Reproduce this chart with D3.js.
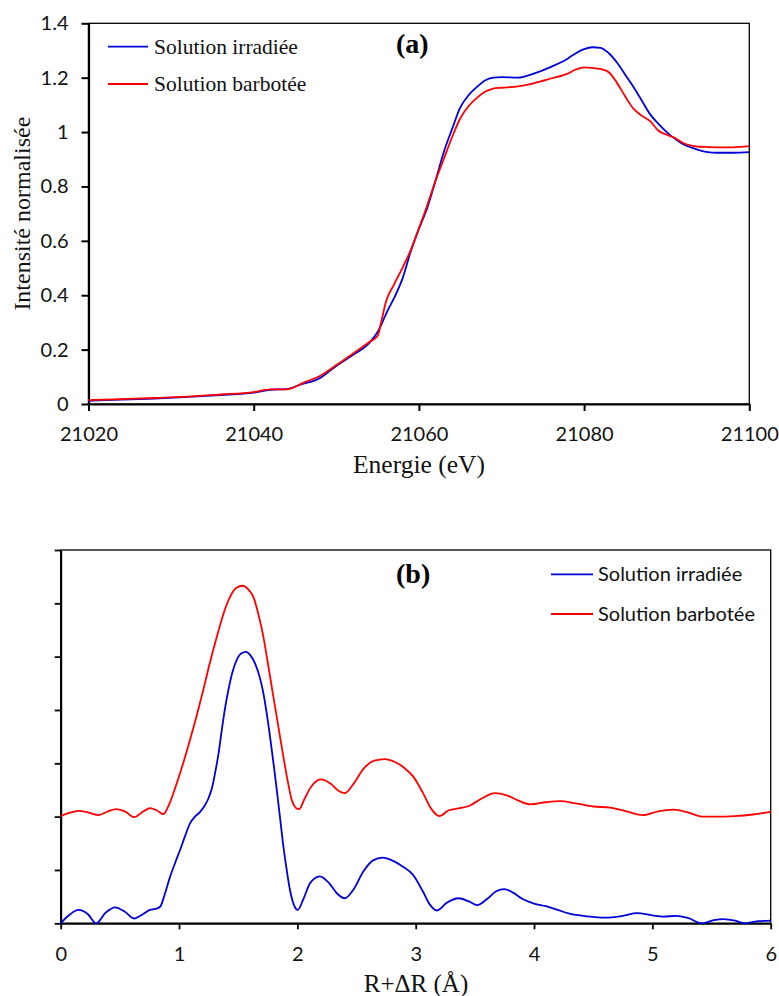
<!DOCTYPE html>
<html><head><meta charset="utf-8">
<script src="https://cdn.jsdelivr.net/npm/d3@7"></script>
<style>
body{margin:0;background:#fff;}
svg{display:block;}
</style></head>
<body>
<svg id="chart" width="779" height="996"></svg>
<script>
// ---------- Data (a): XANES ----------
const energy = [21020,21024,21028,21032,21036,21040,21042,21044,21046,21047,21048,21050,21052,21054,21055,21055.5,21056,21057,21058,21059,21060,21061,21062,21063,21064,21065,21066,21067,21068,21069,21070,21072,21074,21076,21078,21079,21080,21081,21082,21083,21084,21085,21086,21087,21088,21089,21090,21091,21092,21093,21094,21095,21096,21098,21100];
const irradieeA = [0.012,0.016,0.020,0.026,0.033,0.042,0.052,0.055,0.075,0.082,0.095,0.140,0.180,0.225,0.265,0.295,0.330,0.390,0.460,0.560,0.645,0.720,0.820,0.925,1.010,1.090,1.135,1.165,1.190,1.200,1.202,1.200,1.216,1.240,1.270,1.290,1.305,1.312,1.310,1.290,1.255,1.210,1.165,1.115,1.065,1.030,1.000,0.975,0.955,0.943,0.933,0.926,0.924,0.924,0.926];
const barboteeA = [0.014,0.018,0.022,0.027,0.035,0.044,0.054,0.054,0.078,0.090,0.103,0.143,0.185,0.228,0.250,0.310,0.375,0.440,0.500,0.565,0.645,0.730,0.820,0.900,0.980,1.050,1.095,1.125,1.148,1.160,1.163,1.168,1.180,1.197,1.215,1.230,1.238,1.236,1.232,1.220,1.180,1.130,1.085,1.060,1.040,1.005,0.990,0.978,0.960,0.950,0.946,0.945,0.944,0.944,0.948];
const xTicksA = [21020,21040,21060,21080,21100];
const yTicksA = [0,0.2,0.4,0.6,0.8,1,1.2,1.4];
const yTickLabelsA = ["0","0.2","0.4","0.6","0.8","1","1.2","1.4"];

// ---------- Data (b): Fourier transform ----------
const rIrr = [0,0.07,0.15,0.23,0.30,0.38,0.46,0.54,0.62,0.70,0.755,0.80,0.84,0.88,0.924,0.97,1.008,1.05,1.093,1.135,1.178,1.215,1.248,1.28,1.304,1.335,1.361,1.39,1.417,1.45,1.488,1.525,1.566,1.605,1.642,1.68,1.713,1.74,1.769,1.80,1.826,1.855,1.882,1.91,1.938,1.97,2.003,2.05,2.107,2.19,2.27,2.34,2.40,2.47,2.56,2.64,2.72,2.80,2.88,2.98,3.06,3.12,3.18,3.26,3.36,3.45,3.52,3.60,3.68,3.75,3.82,3.90,4.00,4.10,4.20,4.30,4.45,4.60,4.75,4.87,5.00,5.09,5.20,5.30,5.42,5.52,5.60,5.70,5.78,5.90,6.00];
const ftIrr = [0,0.15,0.25,0.17,0,0.20,0.30,0.22,0.09,0.18,0.25,0.27,0.31,0.55,0.87,1.15,1.37,1.63,1.875,2.00,2.09,2.20,2.34,2.55,2.81,3.20,3.62,4.05,4.375,4.70,4.94,5.06,5.09,5.02,4.875,4.63,4.31,3.95,3.50,2.97,2.50,1.95,1.44,1.00,0.62,0.35,0.25,0.45,0.75,0.88,0.75,0.55,0.47,0.62,0.98,1.18,1.23,1.18,1.08,0.90,0.60,0.35,0.24,0.38,0.47,0.41,0.34,0.45,0.60,0.64,0.58,0.46,0.37,0.32,0.25,0.18,0.13,0.105,0.14,0.19,0.15,0.125,0.14,0.10,0.0,0.06,0.08,0.05,0.0,0.04,0.05];
const rBar = [0,0.07,0.15,0.23,0.32,0.40,0.47,0.55,0.62,0.70,0.755,0.81,0.867,0.92,0.98,1.035,1.093,1.15,1.205,1.26,1.319,1.375,1.431,1.485,1.538,1.585,1.628,1.67,1.713,1.755,1.797,1.84,1.882,1.92,1.953,1.985,2.014,2.06,2.107,2.20,2.28,2.35,2.40,2.47,2.56,2.65,2.74,2.82,2.90,2.98,3.06,3.13,3.20,3.28,3.375,3.45,3.55,3.67,3.77,3.87,3.97,4.10,4.22,4.35,4.50,4.64,4.78,4.92,5.05,5.18,5.30,5.43,5.55,5.69,5.85,6.00];
const ftBar = [2.01,2.07,2.11,2.08,2.03,2.10,2.14,2.09,1.99,2.10,2.16,2.12,2.05,2.25,2.62,3.00,3.44,3.90,4.375,4.88,5.37,5.80,6.12,6.29,6.33,6.26,6.12,5.80,5.37,4.82,4.25,3.68,3.12,2.65,2.31,2.17,2.14,2.33,2.53,2.70,2.62,2.48,2.44,2.60,2.90,3.05,3.08,3.03,2.92,2.75,2.45,2.15,2.01,2.12,2.16,2.20,2.33,2.44,2.40,2.30,2.23,2.27,2.29,2.25,2.19,2.17,2.10,2.03,2.10,2.13,2.08,2.00,2.00,2.01,2.04,2.09];
const xTicksB = [0,1,2,3,4,5,6];
const yTicksB = [0,1,2,3,4,5,6,7];

const seriesNames = ["Solution irradiée","Solution barbotée"];
const seriesColors = ["#0000d8","#ff0000"];

const svg = d3.select("#chart");
const sansFont = "Lato, 'Open Sans', sans-serif";
const serifFont = "'Liberation Serif', 'Times New Roman', serif";

// ================= Chart (a) =================
const A = {left:88.5, right:749.3, top:23.3, bottom:404};
const xA = d3.scaleLinear().domain([21020,21100]).range([A.left,A.right]);
const yA = d3.scaleLinear().domain([0,1.4]).range([A.bottom,A.top]);
const gA = svg.append("g");

gA.append("rect").attr("x",A.left).attr("y",A.top).attr("width",A.right-A.left).attr("height",A.bottom-A.top)
  .attr("fill","none").attr("stroke","#000").attr("stroke-width",1.3);

const axAx = gA.append("g").attr("transform",`translate(0,${A.bottom})`)
  .call(d3.axisBottom(xA).tickValues(xTicksA).tickFormat(d=>String(d)).tickSize(7).tickSizeOuter(0));
const axAy = gA.append("g").attr("transform",`translate(${A.left},0)`)
  .call(d3.axisLeft(yA).tickValues(yTicksA).tickFormat((d,i)=>yTickLabelsA[i]).tickSize(7).tickSizeOuter(0));
[axAx,axAy].forEach(a=>{
  a.select(".domain").attr("stroke","#000").attr("stroke-width",2.2);
  a.selectAll(".tick line").attr("stroke","#000").attr("stroke-width",2);
  a.selectAll("text").attr("font-family",sansFont).attr("font-size",20).attr("fill","#111");
});
axAx.selectAll("text").attr("dy",null).attr("y",37);
axAy.selectAll("text").attr("x",-20);

const lineA = d3.line().x(d=>xA(d[0])).y(d=>yA(d[1])).curve(d3.curveMonotoneX);
[irradieeA,barboteeA].forEach((vals,i)=>{
  gA.append("path").datum(energy.map((e,j)=>[e,vals[j]]))
    .attr("d",lineA).attr("fill","none").attr("stroke",seriesColors[i]).attr("stroke-width",1.8);
});

seriesNames.forEach((n,i)=>{
  const y = 46.7 + i*37.3;
  gA.append("line").attr("x1",108).attr("x2",148).attr("y1",y).attr("y2",y)
    .attr("stroke",seriesColors[i]).attr("stroke-width",1.8);
  gA.append("text").attr("x",154).attr("y",y+7).text(n)
    .attr("font-family",serifFont).attr("font-size",21.5).attr("fill","#111");
});
gA.append("text").attr("x",396).attr("y",53).text("(a)")
  .attr("font-family",serifFont).attr("font-size",28).attr("font-weight","bold");
gA.append("text").attr("x",419).attr("y",473).attr("text-anchor","middle")
  .text("Energie (eV)").attr("font-family",serifFont).attr("font-size",25.5).attr("fill","#111");
gA.append("text").attr("transform",`translate(30,${(A.top+A.bottom)/2}) rotate(-90)`).attr("text-anchor","middle")
  .text("Intensité normalisée").attr("font-family",serifFont).attr("font-size",24).attr("fill","#111");

// ================= Chart (b) =================
const B = {left:60.7, right:770.7, top:550, bottom:923.3};
const xB = d3.scaleLinear().domain([0,6]).range([B.left,B.right]);
const yB = d3.scaleLinear().domain([0,7]).range([B.bottom,B.top]);
const gB = svg.append("g");
gB.append("rect").attr("x",B.left).attr("y",B.top).attr("width",B.right-B.left).attr("height",B.bottom-B.top)
  .attr("fill","none").attr("stroke","#000").attr("stroke-width",1.3);
const axBx = gB.append("g").attr("transform",`translate(0,${B.bottom})`)
  .call(d3.axisBottom(xB).tickValues(xTicksB).tickFormat(d=>String(d)).tickSize(6).tickSizeOuter(0));
const axBy = gB.append("g").attr("transform",`translate(${B.left},0)`)
  .call(d3.axisLeft(yB).tickValues(yTicksB).tickFormat("").tickSize(6).tickSizeOuter(0));
[axBx,axBy].forEach(a=>{
  a.select(".domain").attr("stroke","#000").attr("stroke-width",2);
  a.selectAll(".tick line").attr("stroke","#000").attr("stroke-width",1.8);
  a.selectAll("text").attr("font-family",sansFont).attr("font-size",20).attr("fill","#111");
});
axBx.selectAll("text").attr("dy",null).attr("y",38);

const lineB = d3.line().x(d=>xB(d[0])).y(d=>yB(d[1])).curve(d3.curveMonotoneX);
gB.append("path").datum(rIrr.map((r,j)=>[r,ftIrr[j]])).attr("d",lineB)
  .attr("fill","none").attr("stroke",seriesColors[0]).attr("stroke-width",1.8);
gB.append("path").datum(rBar.map((r,j)=>[r,ftBar[j]])).attr("d",lineB)
  .attr("fill","none").attr("stroke",seriesColors[1]).attr("stroke-width",1.8);

seriesNames.forEach((n,i)=>{
  const y = 574.3 + i*39.7;
  gB.append("line").attr("x1",551).attr("x2",593).attr("y1",y).attr("y2",y)
    .attr("stroke",seriesColors[i]).attr("stroke-width",1.8);
  gB.append("text").attr("x",598).attr("y",y+7).text(n)
    .attr("font-family",sansFont).attr("font-size",20).attr("fill","#111");
});
gB.append("text").attr("x",396).attr("y",583).text("(b)")
  .attr("font-family",serifFont).attr("font-size",28).attr("font-weight","bold");
gB.append("text").attr("x",416).attr("y",992).attr("text-anchor","middle")
  .text("R+ΔR (Å)").attr("font-family",serifFont).attr("font-size",25).attr("fill","#111");
</script>
</body></html>
